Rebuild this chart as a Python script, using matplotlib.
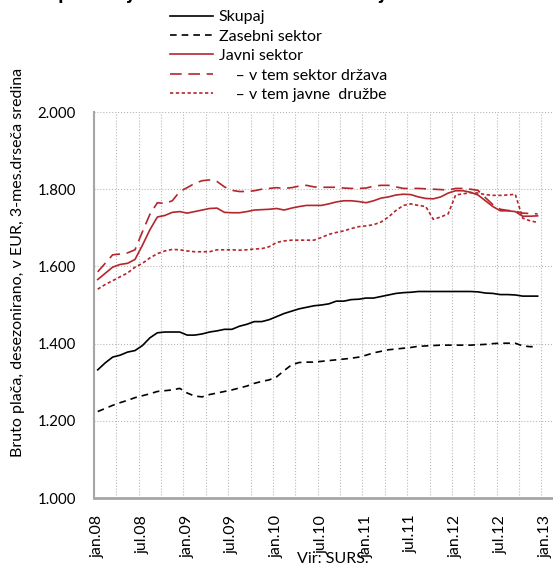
import matplotlib.pyplot as plt
from matplotlib.ticker import FuncFormatter

plt.rcParams['font.family'] = ['Lato', 'DejaVu Sans']

# monthly data, jan.08 .. dec.12 (3-month moving average, EUR)
months = list(range(60))

skupaj = [1332, 1350, 1365, 1370, 1378, 1382, 1395, 1415, 1428, 1430,
          1430, 1430, 1422, 1422, 1425, 1430, 1433, 1437, 1437, 1445,
          1450, 1457, 1457, 1462, 1470, 1478, 1484, 1490, 1494, 1498,
          1500, 1503, 1510, 1510, 1514, 1515, 1518, 1518, 1522, 1526,
          1530, 1532, 1533, 1535, 1535, 1535, 1535, 1535, 1535, 1535,
          1535, 1534, 1531, 1530, 1527, 1527, 1526, 1523, 1523, 1523]

zasebni = [1224, 1232, 1240, 1247, 1253, 1260, 1265, 1270, 1276, 1278,
           1280, 1284, 1272, 1264, 1262, 1268, 1272, 1276, 1280, 1285,
           1290, 1297, 1302, 1306, 1314, 1330, 1345, 1351, 1352, 1352,
           1354, 1356, 1358, 1360, 1362, 1365, 1370, 1376, 1380, 1384,
           1386, 1388, 1390, 1393, 1394, 1395, 1396, 1396, 1396, 1396,
           1396, 1397, 1398, 1400, 1401, 1401, 1401, 1394, 1392, 1392]

javni = [1566, 1582, 1598, 1605, 1608, 1618, 1655, 1695, 1728, 1732,
         1740, 1742, 1738, 1742, 1746, 1750, 1751, 1740, 1739, 1739,
         1742, 1746, 1747, 1748, 1750, 1746, 1751, 1755, 1758, 1758,
         1758, 1762, 1767, 1770, 1770, 1768, 1765, 1770, 1777, 1780,
         1785, 1787, 1786, 1780, 1776, 1775, 1780, 1790, 1796, 1796,
         1792, 1785, 1770, 1755, 1744, 1744, 1742, 1730, 1730, 1731]

drzava = [1586, 1608, 1630, 1632, 1635, 1643, 1690, 1735, 1765, 1763,
          1770, 1794, 1804, 1815, 1822, 1824, 1820, 1806, 1797, 1794,
          1794, 1796, 1800, 1802, 1804, 1802, 1804, 1808, 1810, 1806,
          1805, 1805, 1805, 1803, 1802, 1802, 1803, 1808, 1810, 1810,
          1806, 1802, 1802, 1802, 1801, 1800, 1799, 1798, 1802, 1802,
          1800, 1797, 1778, 1760, 1748, 1745, 1743, 1738, 1737, 1736]

druzbe = [1541, 1553, 1563, 1573, 1583, 1598, 1608, 1622, 1633, 1640,
          1644, 1643, 1640, 1638, 1638, 1638, 1643, 1643, 1643, 1642,
          1643, 1645, 1646, 1651, 1662, 1666, 1668, 1668, 1668, 1668,
          1675, 1683, 1688, 1692, 1698, 1703, 1705, 1708, 1715, 1728,
          1745, 1758, 1762, 1758, 1755, 1722, 1728, 1736, 1785, 1788,
          1791, 1790, 1786, 1784, 1784, 1785, 1787, 1725, 1718, 1714]

tick_pos = list(range(0, 61, 6))
tick_labels = ['jan.08', 'jul.08', 'jan.09', 'jul.09', 'jan.10', 'jul.10',
               'jan.11', 'jul.11', 'jan.12', 'jul.12', 'jan.13']

red = '#b3262c'

fig = plt.figure(figsize=(5.53, 5.66), dpi=100)
ax = fig.add_axes([94 / 553, 68 / 566, 466 / 553, 386 / 566])

ax.plot(months, skupaj, color='black', lw=1.2, label='Skupaj')
ax.plot(months, zasebni, color='black', lw=1.2, dashes=(4, 3), label='Zasebni sektor')
ax.plot(months, javni, color=red, lw=1.2, label='Javni sektor')
ax.plot(months, drzava, color=red, lw=1.2, dashes=(7, 4), label='    – v tem sektor država')
ax.plot(months, druzbe, color=red, lw=1.2, dashes=(2, 1.5), label='    – v tem javne  družbe')

ax.set_xlim(-0.5, 62)
ax.set_ylim(1000, 2000)
ax.set_yticks(range(1000, 2001, 200))
ax.yaxis.set_major_formatter(FuncFormatter(lambda v, p: f'{int(v):,}'.replace(',', '.')))
ax.set_xticks(tick_pos)
ax.set_xticklabels(tick_labels, rotation=90, fontsize=11.5)
ax.tick_params(axis='both', length=0)
ax.tick_params(axis='x', pad=12, labelsize=11.5)
ax.tick_params(axis='y', pad=13, labelsize=10.8)

# gridlines between categories (every 3 months)
for g in range(0, 63, 3):
    ax.axvline(g - 0.5, color='#b8b8b8', lw=0.8, ls=':', zorder=0)
for v in range(1200, 2001, 200):
    ax.axhline(v, color='#b8b8b8', lw=0.8, ls=':', zorder=0)

for s in ['top', 'right']:
    ax.spines[s].set_visible(False)
ax.spines['left'].set_color('#a6a6a6')
ax.spines['left'].set_linewidth(1.5)
ax.spines['bottom'].set_color('#a6a6a6')
ax.spines['bottom'].set_linewidth(2)

fig.text(18 / 553, 1 - 262 / 566, 'Bruto plača, desezonirano, v EUR, 3-mes.drseča sredina',
         rotation=90, ha='center', va='center', fontsize=11.5)

# title, mostly cut off at the top edge as in the source image
fig.text(0.0, 1 + 1 / 566, 'Bruto plača v javnem in zasebnem sektorju',
         fontsize=15, fontweight='bold', ha='left', va='baseline')

fig.text(297 / 553, 1 - 559 / 566, 'Vir: SURS.', fontsize=11.5, ha='left', va='center')

fig.legend(loc='upper left', bbox_to_anchor=(170 / 553, 1 - 10 / 566), frameon=False,
           fontsize=11.5, handlelength=2.7, handletextpad=0.35, borderpad=0,
           borderaxespad=0, labelspacing=0.33)

plt.savefig('out.png', dpi=100)
